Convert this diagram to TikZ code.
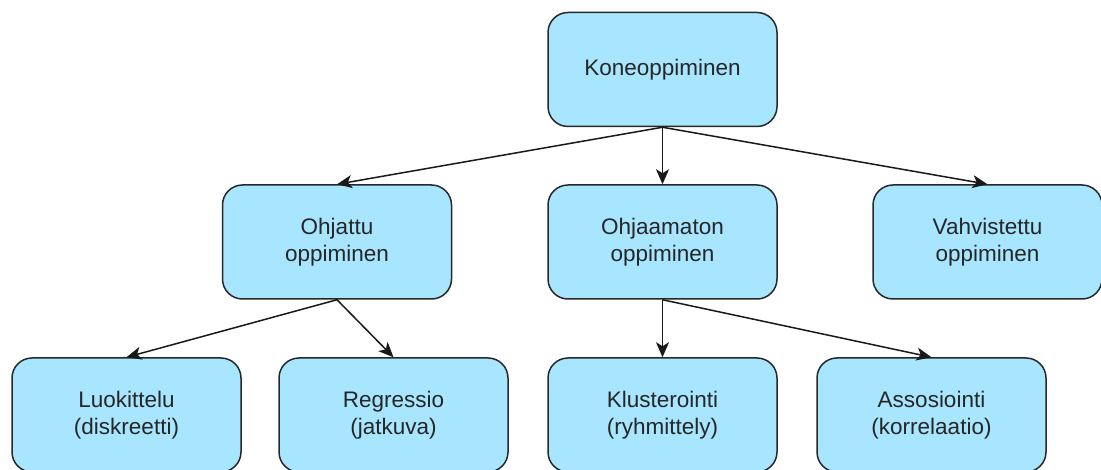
\documentclass[tikz,border=0pt]{standalone}
\usepackage{fontspec}
\setmainfont{Liberation Sans}
\usetikzlibrary{arrows.meta}
\definecolor{boxfill}{RGB}{167,230,254}
\definecolor{boxline}{RGB}{40,40,40}
\tikzset{
  stepbox/.style={draw=boxline, line width=1.5pt, fill=boxfill, rounded corners=20pt,
    minimum width=229pt, minimum height=114pt, align=center, inner sep=0pt,
    font=\fontsize{22.5pt}{27pt}\selectfont, text=black!85},
  link/.style={draw=black!90, line width=1.5pt,
    -{Stealth[length=15pt,width=13pt,inset=4pt]}}
}
\begin{document}
\begin{tikzpicture}[x=1pt,y=-1pt]
\path[use as bounding box] (0,0) rectangle (1101,470);
\begin{scope}
\clip (0,0) rectangle (1101,470);
\node[stepbox] (kone) at (662.5,69.5) {Koneoppiminen};
\node[stepbox] (ohj) at (337,242) {Ohjattu\\oppiminen};
\node[stepbox] (ohjm) at (662.5,242) {Ohjaamaton\\oppiminen};
\node[stepbox] (vahv) at (987.5,242) {Vahvistettu\\oppiminen};
\node[stepbox] (luok) at (126.5,415) {Luokittelu\\(diskreetti)};
\node[stepbox] (regr) at (393.5,415) {Regressio\\(jatkuva)};
\node[stepbox] (klus) at (662.5,415) {Klusterointi\\(ryhmittely)};
\node[stepbox] (asso) at (931.5,415) {Assosiointi\\(korrelaatio)};
\end{scope}
\draw[link] (kone.south) -- (ohj.north);
\draw[link] (kone.south) -- (ohjm.north);
\draw[link] (kone.south) -- (vahv.north);
\draw[link] (ohj.south) -- (luok.north);
\draw[link] (ohj.south) -- (regr.north);
\draw[link] (ohjm.south) -- (klus.north);
\draw[link] (ohjm.south) -- (asso.north);
\end{tikzpicture}
\end{document}
